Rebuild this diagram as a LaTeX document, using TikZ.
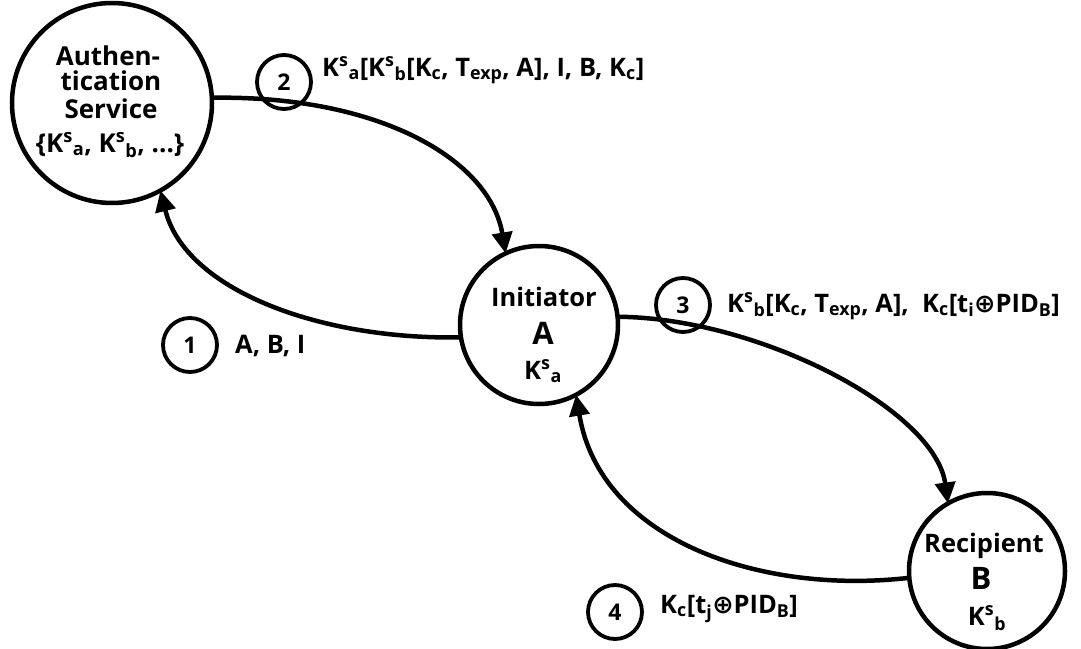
\documentclass[tikz,border=0pt]{standalone}
\usepackage{fontspec}
\setmainfont{Open Sans}
\newfontfamily\symf{DejaVu Sans}
\usetikzlibrary{arrows.meta}
\newcommand\sbx[1]{\textsubscript{#1}}
\newcommand\spx[1]{\textsuperscript{#1}}
\newcommand\xor{{\symf\bfseries ⊕}}
\begin{document}
\begin{tikzpicture}[x=1pt,y=-1pt,
  bigcirc/.style={circle,draw,line width=4.5pt,inner sep=0pt,outer sep=0pt,minimum size=#1},
  numcirc/.style={circle,draw,line width=3.8pt,inner sep=0pt,minimum size=54pt,
    font=\bfseries\fontsize{23}{26}\selectfont},
  conn/.style={line width=4.5pt,-{Triangle[length=21pt,width=20pt]}},
  ctext/.style={anchor=base,inner sep=0pt,font=\bfseries\fontsize{25.5}{28}\selectfont},
  btext/.style={anchor=base,inner sep=0pt,font=\bfseries\fontsize{31}{32}\selectfont},
  atext/.style={anchor=base,inner sep=0pt,font=\bfseries\fontsize{26}{28}\selectfont},
  ltext/.style={anchor=base west,inner sep=0pt,font=\bfseries\fontsize{25.5}{28}\selectfont}]
\useasboundingbox (0,0) rectangle (1081,648);
% main circles
\node[bigcirc=200pt] (auth) at (112,103) {};
\node[bigcirc=158pt] (init) at (539,325) {};
\node[bigcirc=156pt] (recip) at (987,571) {};
% circle texts
\node[atext] (auth1) at (108,65) {Authen-};
\node[atext] (auth2) at (111,90) {tication};
\node[atext] (auth3) at (111,118) {Service};
\node[atext] (auth4) at (110,152) {\{K\spx{s}\sbx{a}, K\spx{s}\sbx{b}, ...\}};
\node[ctext] (init1) at (544,306) {Initiator};
\node[btext] (init2) at (543,344) {A};
\node[ctext] (init3) at (543,379) {K\spx{s}\sbx{a}};
\node[ctext] (recip1) at (984,552) {Recipient};
\node[btext] (recip2) at (981,589) {B};
\node[ctext] (recip3) at (987,625) {K\spx{s}\sbx{b}};
% connectors
\draw[conn] (init.189) .. controls (320,340) and (185,290) .. (auth.-61);
\draw[conn] (auth.3) .. controls (380,95) and (490,160) .. (init.115);
\draw[conn] (init.6) .. controls (760,318) and (935,410) .. (recip.120);
\draw[conn] (recip.185) .. controls (760,595) and (600,540) .. (init.298);
% step numbers
\node[numcirc] (n1) at (190,345) {1};
\node[numcirc] (n2) at (284,82) {2};
\node[numcirc] (n3) at (683,305) {3};
\node[numcirc] (n4) at (615,612) {4};
% labels
\node[ltext] (l1) at (235,353) {A, B, I};
\node[ltext] (l2) at (322,76) {K\spx{s}\sbx{a}[K\spx{s}\sbx{b}[K\sbx{c}, T\sbx{exp}, A], I, B, K\sbx{c}]};
\node[ltext] (l3) at (727,312) {K\spx{s}\sbx{b}[K\sbx{c}, T\sbx{exp}, A],\ \ K\sbx{c}[t\sbx{i}\xor PID\sbx{B}]};
\node[ltext] (l4) at (660,613) {K\sbx{c}[t\sbx{j}\xor PID\sbx{B}]};
\end{tikzpicture}
\end{document}
